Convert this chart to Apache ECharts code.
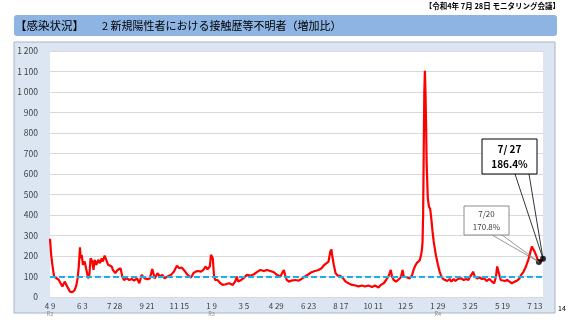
<!DOCTYPE html>
<html><head><meta charset="utf-8">
<script src="https://cdn.jsdelivr.net/npm/echarts@6/dist/echarts.min.js"></script>
<style>html,body{margin:0;padding:0;background:#fff}#c{width:569px;height:320px}</style>
</head><body><div id="c"></div>
<script>
// x tick labels every 55 days starting 2020-04-09
const tickLabels = ['4 9','6 3','7 28','9 21','11 15','1 9','3 5','4 29','6 23','8 17','10 11','12 5','1 29','3 25','5 19','7 13'];
const eraLabels = {0:'R2', 5:'R3', 12:'R4'};
const tickStep = 55;
// day offset from 2020-04-09
const days = [0,2,4,7,10,15,18,21,25,28,31,34,38,42,45,47,49,51,52,54,56,59,62,65,67,69,72,74,76,79,82,85,88,90,93,96,99,102,105,107,111,115,118,120,123,126,131,135,139,143,148,152,156,159,161,166,170,174,176,178,183,187,191,195,200,206,211,216,220,224,227,230,234,240,244,248,252,257,261,265,268,272,274,276,277,279,281,285,290,294,299,305,311,315,318,320,325,329,335,341,347,352,358,364,369,375,381,386,392,398,400,403,407,411,417,423,428,434,440,445,451,457,462,467,470,474,477,479,480,483,486,490,494,499,503,508,514,520,525,531,536,542,548,553,559,563,568,572,576,580,582,585,589,592,597,600,602,605,608,612,616,619,622,624,626,629,631,633,634,635,636,637,638,639,640,641,643,645,647,649,651,653,655,657,660,663,666,669,672,676,680,683,687,690,694,697,700,704,708,712,715,718,720,723,727,731,735,739,743,748,752,756,759,761,764,767,770,774,778,782,786,791,795,799,802,806,810,814,817,820,822,825,828,830,832,835,837,839];
// increase ratio (%)
const ratio = [284,206,157,100,91,83,67,51,75,83,42,26,23,34,59,91,149,242,189,206,157,173,132,91,108,189,173,132,181,157,181,165,189,173,202,198,157,149,149,132,116,132,124,140,100,83,91,83,88,80,91,67,108,111,91,87,91,137,116,91,116,100,108,91,100,108,124,153,140,144,149,124,108,95,116,124,127,124,132,149,135,149,206,214,189,108,83,83,67,59,62,67,59,75,100,75,83,91,108,104,111,121,132,127,132,127,121,108,100,132,108,83,75,80,83,80,88,100,111,121,127,132,140,157,149,173,222,232,206,157,116,104,103,91,75,67,59,56,52,56,51,56,49,56,46,59,67,83,100,132,100,83,75,83,95,132,100,91,95,91,105,135,155,165,172,178,198,230,270,400,700,1000,1103,1000,850,650,480,440,430,380,320,270,235,200,160,125,100,88,80,78,88,75,88,78,88,83,91,83,88,83,100,111,124,100,91,95,88,91,78,88,75,67,100,149,116,83,91,78,83,75,67,75,80,91,108,124,149,181,214,246,238,219,198,180,170.8,172,178,186.4];
const baseline = 100;
const yTicks = [0,100,200,300,400,500,600,700,800,900,1000,1100,1200];
const callouts = [
  {day: 832, value: 170.8, date: '7/20', text: '170.8%'},
  {day: 839, value: 186.4, date: '7/ 27', text: '186.4%'}
];

const FONT = '"Noto Sans CJK JP", "Noto Sans", sans-serif';
const chart = echarts.init(document.getElementById('c'));
const option = {
  animation: false,
  textStyle: {fontFamily: FONT},
  grid: {left: 50, right: 26, top: 51, bottom: 23, show: true, backgroundColor: '#ffffff', borderWidth: 0},
  xAxis: {
    type: 'value', min: 0, max: days[days.length - 1], interval: tickStep,
    axisLine: {show: false}, axisTick: {show: false}, splitLine: {show: false},
    axisLabel: {
      margin: 5, color: '#404040', fontSize: 8, fontFamily: FONT, showMaxLabel: false,
      formatter: function (v) {
        if (v % tickStep !== 0) return '';
        const i = v / tickStep;
        const t = tickLabels[i] || '';
        return eraLabels[i] ? t + '\n{era|' + eraLabels[i] + '}' : t;
      },
      rich: {era: {fontSize: 5.5, color: '#8c8c8c', lineHeight: 7}}
    }
  },
  yAxis: {
    type: 'value', min: yTicks[0], max: yTicks[yTicks.length - 1], interval: 100,
    axisLine: {show: false}, axisTick: {show: false},
    splitLine: {lineStyle: {color: '#d9d9d9', width: 1}},
    axisLabel: {
      margin: 12, color: '#404040', fontSize: 8.5, fontFamily: FONT,
      formatter: function (v) { return v >= 1000 ? Math.floor(v / 1000) + ' ' + String(v % 1000).padStart(3, '0') : String(v); }
    }
  },
  series: [
    {
      type: 'line', data: days.map((d, i) => [d, ratio[i]]), showSymbol: false, symbol: 'none',
      lineStyle: {color: '#ff0000', width: 2.2}, z: 3,
      markLine: {
        silent: true, symbol: 'none', label: {show: false},
        lineStyle: {color: '#1cb0ea', width: 2.2, type: [6, 3]},
        data: [{yAxis: baseline}], z: 4
      }
    },
    {
      type: 'scatter', data: callouts.map(c => [c.day, c.value]), symbolSize: 6,
      itemStyle: {color: '#000000'}, z: 6
    }
  ]
};
chart.setOption(option);

const p20 = chart.convertToPixel({seriesIndex: 0}, [callouts[0].day, callouts[0].value]);
const p27 = chart.convertToPixel({seriesIndex: 0}, [callouts[1].day, callouts[1].value]);

chart.setOption({
  graphic: [
    {type: 'rect', z: -20, silent: true, shape: {x: 14, y: 42, width: 541, height: 271}, style: {fill: '#dce6f2', stroke: '#a9b4c2', lineWidth: 1}},
    {type: 'rect', z: -20, silent: true, shape: {x: 14, y: 15, width: 543, height: 21, r: 3}, style: {fill: '#8db4e2'}},
    {type: 'text', z: 10, x: 15, y: 25.5, style: {text: '【感染状況】', font: '11.5px ' + FONT, fill: '#000', textVerticalAlign: 'middle'}},
    {type: 'text', z: 10, x: 102, y: 25.5, style: {text: '2 新規陽性者における接触歴等不明者（増加比）', font: '11px ' + FONT, fill: '#000', textVerticalAlign: 'middle'}},
    {type: 'text', z: 10, x: 560, y: 6.5, style: {text: '【令和4年 7月 28日 モニタリング会議】', font: 'bold 7.5px ' + FONT, fill: '#000', textAlign: 'right', textVerticalAlign: 'middle'}},
    {type: 'text', z: 10, x: 558, y: 308, style: {text: '14', font: '7px ' + FONT, fill: '#000', textVerticalAlign: 'middle'}},
    // 7/20 callout
    {type: 'polyline', z: 8, shape: {points: [[492, 235], p20]}, style: {stroke: '#7f7f7f', lineWidth: 0.8, fill: null}},
    {type: 'polyline', z: 8, shape: {points: [[502, 235], p20]}, style: {stroke: '#7f7f7f', lineWidth: 0.8, fill: null}},
    {type: 'rect', z: 9, shape: {x: 464, y: 206, width: 45, height: 29}, style: {fill: '#ffffff', stroke: '#8c8c8c', lineWidth: 1}},
    {type: 'text', z: 10, x: 486.5, y: 214, style: {text: callouts[0].date, font: '8px ' + FONT, fill: '#404040', textAlign: 'center', textVerticalAlign: 'middle'}},
    {type: 'text', z: 10, x: 486.5, y: 227, style: {text: callouts[0].text, font: '8px ' + FONT, fill: '#404040', textAlign: 'center', textVerticalAlign: 'middle'}},
    // 7/27 callout
    {type: 'polyline', z: 8, shape: {points: [[515, 174], p27]}, style: {stroke: '#000', lineWidth: 0.8, fill: null}},
    {type: 'polyline', z: 8, shape: {points: [[529, 174], p27]}, style: {stroke: '#000', lineWidth: 0.8, fill: null}},
    {type: 'rect', z: 9, shape: {x: 482, y: 139, width: 55, height: 35}, style: {fill: '#ffffff', stroke: '#000', lineWidth: 1}},
    {type: 'text', z: 10, x: 509.5, y: 149.5, style: {text: callouts[1].date, font: 'bold 10px ' + FONT, fill: '#000', textAlign: 'center', textVerticalAlign: 'middle'}},
    {type: 'text', z: 10, x: 509.5, y: 164, style: {text: callouts[1].text, font: 'bold 10px ' + FONT, fill: '#000', textAlign: 'center', textVerticalAlign: 'middle'}}
  ]
});
</script></body></html>
